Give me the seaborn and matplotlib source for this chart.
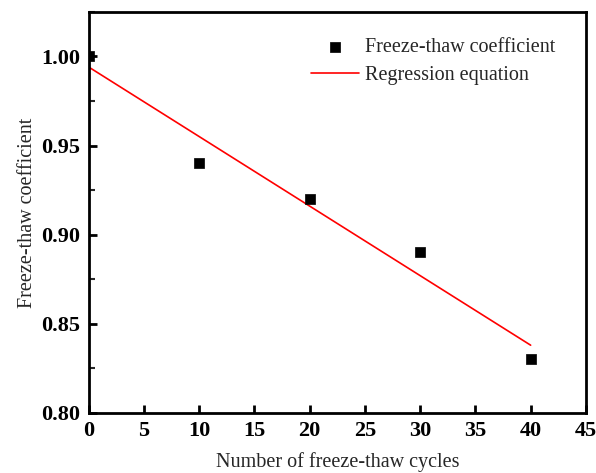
import numpy as np
import pandas as pd
import matplotlib
matplotlib.use("Agg")
import matplotlib.pyplot as plt
import seaborn as sns
from matplotlib.ticker import MultipleLocator

cycles = [0, 10, 20, 30, 40]
coefficient = [1.00, 0.94, 0.92, 0.89, 0.83]
reg_x = [0, 40]
reg_y = [0.994, 0.838]
x_ticks = [0, 5, 10, 15, 20, 25, 30, 35, 40, 45]
y_ticks = [0.80, 0.85, 0.90, 0.95, 1.00]

sns.set_theme(style="ticks")
plt.rcParams['font.family'] = ['Liberation Serif', 'DejaVu Serif']

df = pd.DataFrame({"x": cycles, "y": coefficient})
reg = pd.DataFrame({"x": reg_x, "y": reg_y})

fig = plt.figure(figsize=(5.96, 4.73), dpi=100)
ax = fig.add_axes([0.149, 0.127, 0.834, 0.848])

sns.scatterplot(data=df, x="x", y="y", marker="s", color="black", s=50,
                edgecolor="black", linewidth=0.5, ax=ax, label="Freeze-thaw coefficient",
                zorder=3)
sns.lineplot(data=reg, x="x", y="y", color="red", linewidth=1.2, ax=ax,
             label="Regression equation")

ax.set_xlim(0, 45)
ax.set_ylim(0.80, 1.025)
ax.set_xticks(x_ticks)
ax.set_xticklabels([str(t) for t in x_ticks])
ax.set_yticks(y_ticks)
ax.set_yticklabels([f"{t:.2f}" for t in y_ticks])
ax.yaxis.set_minor_locator(MultipleLocator(0.025))

for s in ax.spines.values():
    s.set_linewidth(2.0)
    s.set_color("black")
    s.set_zorder(5)

ax.tick_params(axis="both", which="major", direction="in", length=6, width=2,
               labelsize=16, colors="black", pad=6)
ax.tick_params(axis="y", which="minor", direction="in", length=4, width=1.5)
ax.tick_params(top=False, right=False, which="both")
for lab in ax.get_xticklabels() + ax.get_yticklabels():
    lab.set_fontweight("bold")

ax.set_xlabel("Number of freeze-thaw cycles", fontsize=14.5, labelpad=8)
ax.set_ylabel("Freeze-thaw coefficient", fontsize=14.5, labelpad=3)

leg = ax.legend(loc="upper right", frameon=False, fontsize=14.5,
                bbox_to_anchor=(0.955, 0.955), handlelength=2.4, handletextpad=0.3,
                borderaxespad=0.0, labelspacing=0.45)

fig.savefig("out.png", dpi=100)
